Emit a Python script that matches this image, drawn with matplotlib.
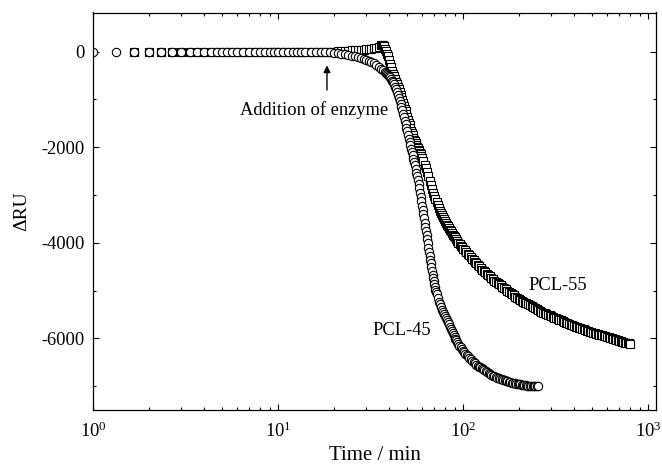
import matplotlib
matplotlib.use("Agg")
import matplotlib.pyplot as plt
from matplotlib.ticker import LogLocator, MultipleLocator, NullFormatter

plt.rcParams['font.family'] = ['Liberation Serif', 'DejaVu Serif']
plt.rcParams['mathtext.fontset'] = 'custom'
plt.rcParams['mathtext.rm'] = 'Liberation Serif'
plt.rcParams['axes.unicode_minus'] = False

# PCL-45 (circles): time / min and ΔRU
t45 = [1, 1.33, 1.67, 2, 2.33, 2.67, 3, 3.33, 3.67, 4, 4.33, 4.67, 5, 5.33, 5.67, 6, 6.5, 7,
       7.5, 8, 8.5, 9, 9.5, 10, 10.7, 11.3, 12, 12.7, 13.3, 14, 15, 16, 17, 18, 19, 20, 21, 22,
       23, 24, 25, 26, 27, 28, 29, 30, 31, 32, 33, 34, 35, 36, 37,
       38, 38.5, 39, 39.5, 40, 40.5, 41, 41.5, 42, 42.5, 43, 43.5, 44, 44.5, 45, 45.5,
       46, 46.5, 47, 47.5, 48, 48.5, 49, 49.5, 50, 50.5, 51, 51.5, 52, 52.5, 53, 53.5,
       54, 54.5, 55, 55.5, 56, 56.5, 57, 57.5, 58, 58.5, 59, 59.5, 60, 60.5, 61, 61.5,
       62, 62.5, 63, 63.5, 64, 64.5, 65, 65.5, 66, 66.5, 67, 67.5, 68, 68.5, 69, 69.5,
       70, 70.5, 71, 71.5, 72, 73, 74, 75, 76, 77, 78, 79, 80, 81, 82, 83, 84, 85, 86, 87, 88,
       89, 90, 91, 92, 93, 94, 95.5, 97, 98.5, 100, 101.5, 103, 104.5, 106, 108, 110, 112,
       114, 116, 118, 120, 122, 124, 126, 128, 130, 132.5, 135, 137.5, 140, 142.5, 145,
       147.5, 150, 153, 156, 159, 162, 165, 168, 171, 174, 177, 180, 183.5, 187, 190.5,
       194, 197.5, 201, 204.5, 208, 211.5, 215, 218.5, 222, 226, 230, 234, 238, 242, 246,
       250, 254]
ru45 = [0, 0, 0, 0, 0, 0, 0, 0, 0, 0, 0, 0, 0, 0, 0, 0, 0, 0,
        0, 0, 0, 0, 0, 0, 0, 0, 0, 0, 0, 0, 0, 0, 0, -10, -15, -20, -30, -40,
        -55, -70, -85, -100, -115, -135, -150, -170, -190, -215, -245, -280, -320, -360, -390,
        -420, -440, -460, -485, -510, -540, -570, -605, -640, -685, -730, -785, -840, -900, -960, -1025,
        -1090, -1160, -1230, -1300, -1370, -1445, -1520, -1595, -1670, -1745, -1820, -1890, -1960, -2030, -2100, -2170,
        -2240, -2310, -2380, -2455, -2530, -2610, -2690, -2775, -2860, -2950, -3040, -3130, -3220, -3310, -3400, -3490,
        -3580, -3670, -3760, -3845, -3930, -4015, -4100, -4185, -4270, -4350, -4430, -4510, -4590, -4665, -4740, -4805,
        -4870, -4925, -4980, -5030, -5080, -5160, -5230, -5290, -5350, -5400, -5440, -5485, -5530, -5575, -5620, -5665, -5710, -5755, -5800, -5845, -5890,
        -5930, -5970, -6005, -6040, -6075, -6110, -6150, -6190, -6225, -6260, -6290, -6320, -6350, -6380, -6410, -6440, -6470,
        -6500, -6525, -6550, -6570, -6590, -6610, -6630, -6650, -6670, -6690, -6710, -6730, -6750, -6765, -6780,
        -6795, -6810, -6825, -6840, -6850, -6860, -6870, -6880, -6890, -6900, -6910, -6920, -6928, -6935, -6943,
        -6950, -6955, -6960, -6965, -6970, -6975, -6980, -6985, -6990, -6995, -7000, -7000, -7000, -7000, -7000,
        -6995, -6990]

# PCL-55 (squares): time / min and ΔRU
t55 = [1.67, 2, 2.33, 2.67, 3, 3.33, 3.67, 4, 4.33, 4.67, 5, 5.33, 5.67, 6, 6.5, 7, 7.5, 8,
       8.5, 9, 9.5, 10, 10.7, 11.3, 12, 12.7, 13.3, 14, 15, 16, 17, 18, 19, 20, 21, 22, 23, 24,
       25, 26, 27, 28, 29, 30, 31, 32, 33, 34, 35, 36, 36.5, 37, 37.5, 38, 38.5, 39, 39.5,
       40, 40.5, 41, 41.5, 42, 42.5, 43, 43.5, 44, 44.5, 45, 45.5, 46, 46.5, 47, 47.5,
       48, 48.5, 49, 49.5, 50, 50.5, 51, 51.5, 52, 52.5, 53, 53.5, 54, 54.5, 55, 55.5,
       56, 56.5, 57, 57.5, 58, 58.5, 59, 59.5, 60, 61, 62, 63, 64, 65, 66, 67, 68,
       69, 70, 71, 72, 73, 74, 75, 76, 77, 78, 79, 80, 81, 82, 83, 84, 85, 86, 87, 88, 89, 90,
       91.5, 93, 94.5, 96, 97.5, 99, 100.5, 102, 104, 106, 108, 110, 112, 114, 116, 118,
       120, 122, 124.5, 127, 129.5, 132, 134.5, 137, 139.5, 142, 145, 148, 151, 154, 157, 160,
       163.5, 167, 170.5, 174, 177.5, 181, 184.5, 188, 192, 196, 200, 204, 208, 212, 216, 220,
       225, 230, 235, 240, 245, 250, 255, 260, 265, 270, 276, 282, 288, 294, 300, 306, 312,
       318, 325, 332, 339, 346, 353, 360, 367, 375, 382, 390, 398, 406, 414, 422, 431, 440,
       449, 458, 467, 476, 485, 495, 505, 515, 525, 535, 545, 556, 567, 578, 589, 600, 612,
       624, 636, 648, 660, 672, 685, 698, 711, 724, 737, 750, 763, 776, 788, 800]
ru55 = [0, 0, 0, 0, 0, 0, 0, 0, 0, 0, 0, 0, 0, 0, 0, 0, 0, 0,
        0, 0, 0, 0, 0, 0, 0, 0, 0, 0, 0, 0, 0, 0, 0, 0, 5, 10, 15, 20,
        25, 30, 35, 40, 45, 50, 55, 60, 70, 85, 105, 130, 145, 140, 110, 60, 10, -40, -100,
        -170, -250, -330, -395, -460, -515, -570, -625, -680, -735, -790, -845, -900, -955, -1010, -1070,
        -1130, -1190, -1250, -1310, -1370, -1430, -1490, -1545, -1600, -1650, -1700, -1750, -1800, -1840, -1880, -1915,
        -1950, -1985, -2020, -2050, -2080, -2115, -2150, -2185, -2220, -2290, -2370, -2440, -2520, -2610, -2700, -2790, -2880,
        -2950, -3020, -3085, -3150, -3210, -3270, -3325, -3380, -3425, -3470, -3510, -3550, -3585, -3620, -3655, -3690, -3725, -3760, -3795, -3830, -3855, -3880,
        -3920, -3960, -3995, -4030, -4060, -4090, -4120, -4150, -4190, -4230, -4265, -4300, -4335, -4370, -4400, -4430,
        -4460, -4490, -4525, -4560, -4590, -4620, -4650, -4680, -4705, -4730, -4760, -4790, -4815, -4840, -4865, -4890,
        -4920, -4950, -4975, -5000, -5025, -5050, -5075, -5100, -5125, -5150, -5170, -5190, -5210, -5230, -5250, -5270,
        -5290, -5310, -5330, -5350, -5370, -5390, -5405, -5420, -5440, -5460, -5475, -5490, -5505, -5520, -5535, -5550, -5565,
        -5580, -5595, -5610, -5625, -5640, -5655, -5670, -5685, -5700, -5715, -5730, -5745, -5760, -5770, -5780, -5790, -5800,
        -5815, -5830, -5840, -5850, -5860, -5870, -5880, -5890, -5900, -5910, -5920, -5930, -5940, -5950, -5960, -5970, -5980,
        -5990, -6000, -6010, -6020, -6030, -6040, -6050, -6060, -6070, -6080, -6090, -6095, -6100, -6105, -6110]

fig = plt.figure(figsize=(6.62, 4.68), dpi=100)
ax = fig.add_axes([93/662, 1-410/468, (656-93)/662, (410-12.5)/468])

ax.plot(t55, ru55, ls='none', marker='s', ms=5.5, mfc='white', mec='black', mew=0.8)
ax.plot(t45, ru45, ls='none', marker='o', ms=6, mfc='white', mec='black', mew=0.8)

ax.set_xscale('log')
ax.set_xlim(1, 1105)
ax.set_ylim(-7500, 820)
ax.yaxis.set_major_locator(MultipleLocator(2000))
ax.yaxis.set_minor_locator(MultipleLocator(1000))
ax.xaxis.set_major_locator(LogLocator(base=10, numticks=10))
ax.xaxis.set_minor_locator(LogLocator(base=10, subs=range(2, 10), numticks=20))
ax.xaxis.set_minor_formatter(NullFormatter())

ax.tick_params(which='both', direction='in', top=True, right=True, labelsize=13.3)
ax.tick_params(which='major', length=4.5, width=0.8)
ax.tick_params(which='minor', length=2.5, width=0.8)
ax.tick_params(axis='x', pad=8)
ax.tick_params(axis='y', pad=6)
for s in ax.spines.values():
    s.set_linewidth(0.9)

ax.set_xlabel('Time / min', fontsize=15, labelpad=4)
ax.set_ylabel('ΔRU', fontsize=14, labelpad=8)

ax.annotate('', xy=(18.4, -230), xytext=(18.4, -860),
            arrowprops=dict(arrowstyle='-|>', color='black', lw=1.0, mutation_scale=10))
ax.text(15.7, -1229, 'Addition of enzyme', fontsize=13.3, ha='center', va='center')
ax.text(46.8, -5833, 'PCL-45', fontsize=13.3, ha='center', va='center')
ax.text(326, -4896, 'PCL-55', fontsize=13.3, ha='center', va='center')

fig.savefig('out.png', dpi=100)
